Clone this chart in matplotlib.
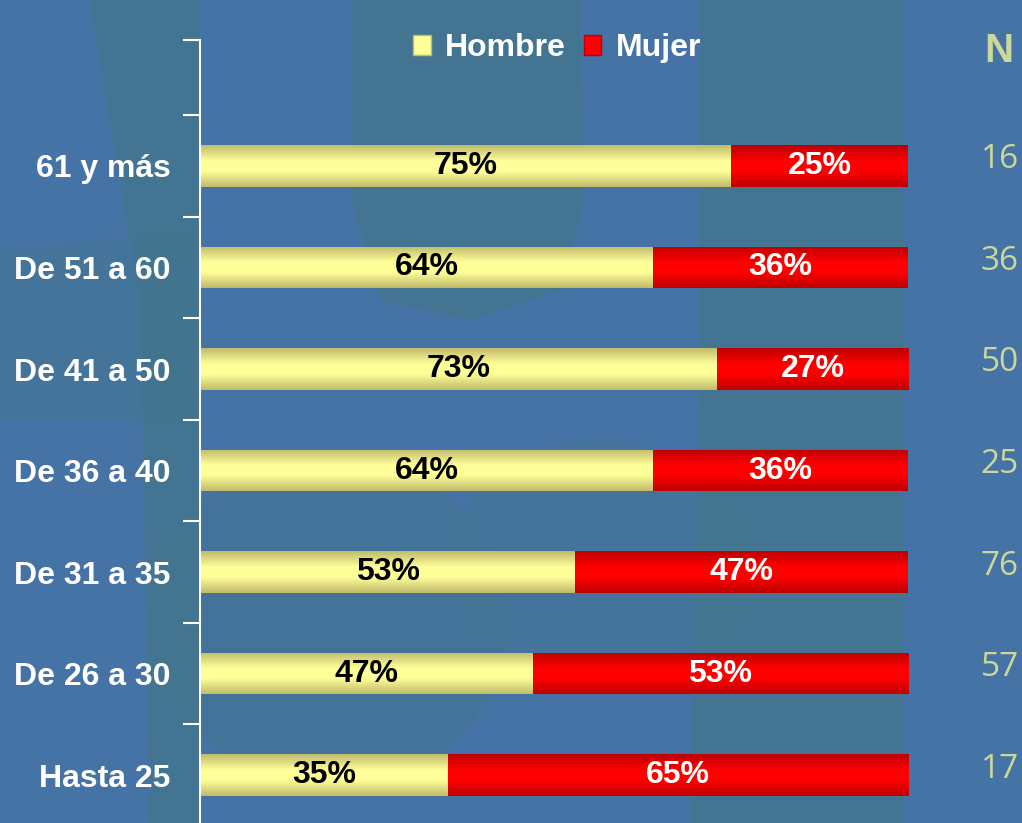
import numpy as np
import matplotlib
matplotlib.use("Agg")
import matplotlib.pyplot as plt
from matplotlib.colors import LinearSegmentedColormap
from matplotlib.patches import Rectangle, Ellipse, Polygon
import matplotlib.transforms as mtransforms

# ---------------- data ----------------
categories = ["Hasta 25", "De 26 a 30", "De 31 a 35", "De 36 a 40",
              "De 41 a 50", "De 51 a 60", "61 y más"]
hombre = [35, 47, 53, 64, 73, 64, 75]
mujer = [65, 53, 47, 36, 27, 36, 25]
n_values = ["17", "57", "76", "25", "50", "36", "16"]
series_names = ["Hombre", "Mujer"]

BG = "#4673A5"
H_MID, H_EDGE = "#FFFF99", "#C2BB6C"
M_MID, M_EDGE = "#FF0000", "#BE0000"
N_COLOR = "#CCD89A"

fig = plt.figure(figsize=(10.22, 8.23), dpi=100, facecolor=BG)

# faint watermark shapes in the background
bgax = fig.add_axes([0, 0, 1, 1], zorder=-10)
bgax.set_xlim(0, 1022); bgax.set_ylim(823, 0); bgax.axis("off")
wm = "#43758E"
kw = dict(facecolor=wm, lw=0, alpha=0.8)
bgax.add_patch(Polygon([(700, 0), (903, 0), (903, 823), (690, 823), (700, 300)], **kw))
bgax.add_patch(Polygon([(352, 0), (580, 0), (585, 200), (560, 290), (470, 320),
                        (380, 300), (352, 200)], **kw))
bgax.add_patch(Polygon([(90, 0), (200, 0), (200, 823), (150, 823), (140, 300)], **kw))
bgax.add_patch(Polygon([(0, 250), (200, 230), (200, 420), (0, 420)], facecolor=wm, lw=0, alpha=0.5))
bgax.add_patch(Ellipse((330, 620), 360, 330, facecolor=wm, lw=0, alpha=0.45))
bgax.add_patch(Ellipse((600, 560), 300, 240, facecolor=wm, lw=0, alpha=0.35))

ax = fig.add_axes([200 / 1022, -3 / 823, 708 / 1022, 786 / 823])
ax.set_facecolor("none")

y = np.arange(len(categories))
bh = 0.41
c1 = ax.barh(y, hombre, height=bh, color=H_MID, lw=0, label=series_names[0])
c2 = ax.barh(y, mujer, left=hombre, height=bh, color=M_MID, lw=0, label=series_names[1])

def grad_cmap(edge, mid):
    return LinearSegmentedColormap.from_list("g", [(0, edge), (0.38, mid), (0.62, mid), (1, edge)])

t = np.linspace(0, 1, 64).reshape(-1, 1)
for cont, cmap in ((c1, grad_cmap(H_EDGE, H_MID)), (c2, grad_cmap(M_EDGE, M_MID))):
    for p in cont.patches:
        x0, y0 = p.get_x(), p.get_y()
        w, h = p.get_width(), p.get_height()
        im = ax.imshow(t, cmap=cmap, aspect="auto", extent=(x0, x0 + w, y0, y0 + h),
                       origin="lower", interpolation="bilinear", zorder=2)
        im.set_clip_path(p)

ax.set_xlim(0, 100)
ax.set_ylim(-0.5, 7.24)

for s in ("top", "right", "bottom"):
    ax.spines[s].set_visible(False)
ax.spines["left"].set_color("white")
ax.spines["left"].set_linewidth(1.5)
ax.set_xticks([])

ax.set_yticks(list(np.arange(-0.5, len(categories), 1.0)) + [7.24])
ax.set_yticklabels([])
ax.tick_params(axis="y", which="major", direction="out", length=12, width=1.5, color="white")
ax.set_yticks(y, categories, minor=True)
ax.tick_params(axis="y", which="minor", length=0, pad=21, labelsize=23, labelcolor="white")
for lab in ax.get_yticklabels(minor=True):
    lab.set_fontweight("bold")
    lab.set_fontfamily("Liberation Sans")

ax.bar_label(c1, labels=[f"{v}%" for v in hombre], label_type="center", color="black",
             fontsize=23, fontweight="bold", family="Liberation Sans", zorder=5)
ax.bar_label(c2, labels=[f"{v}%" for v in mujer], label_type="center", color="white",
             fontsize=23, fontweight="bold", family="Liberation Sans", zorder=5)

# N column
trans = mtransforms.blended_transform_factory(ax.transAxes, ax.transData)
for yi, n in zip(y, n_values):
    ax.text((1000 - 200) / 708, yi + 0.06, n, transform=trans, ha="center", va="center",
            color=N_COLOR, fontsize=24, family="Open Sans")
fig.text(999 / 1022, 1 - 51 / 823, "N", ha="center", va="center", color=N_COLOR,
         fontsize=29, fontweight="bold", family="Liberation Sans")

handles = [Rectangle((0, 0), 1, 1, facecolor=H_MID, edgecolor=H_EDGE, lw=1),
           Rectangle((0, 0), 1, 1, facecolor=M_MID, edgecolor=M_EDGE, lw=1)]
leg = fig.legend(handles, series_names, loc="center", bbox_to_anchor=(557 / 1022, 1 - 48 / 823),
                 ncol=2, frameon=False, handlelength=0.55, handleheight=0.6,
                 columnspacing=0.55, handletextpad=0.45,
                 prop={"family": "Liberation Sans", "weight": "bold", "size": 23})
for txt in leg.get_texts():
    txt.set_color("white")

fig.savefig("out.png", dpi=100, facecolor=BG)
